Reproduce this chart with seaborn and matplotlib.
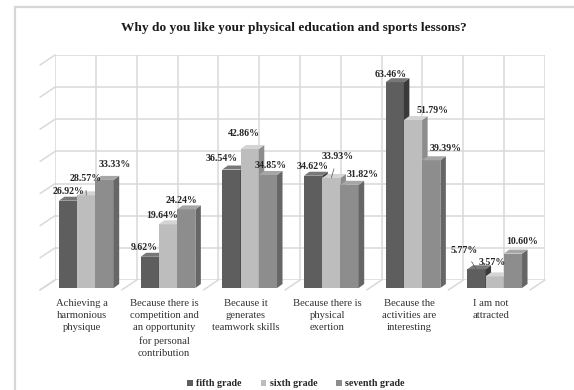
import numpy as np
import pandas as pd
import matplotlib
matplotlib.use("Agg")
import matplotlib.pyplot as plt
import seaborn as sns
from matplotlib.patches import Polygon, Rectangle
from matplotlib.lines import Line2D
from matplotlib.transforms import ScaledTranslation

# ---- data -------------------------------------------------------------
categories = [
    "Achieving a\nharmonious\nphysique",
    "Because there is\ncompetition and\nan opportunity\nfor personal\ncontribution",
    "Because it\ngenerates\nteamwork skills",
    "Because there is\nphysical\nexertion",
    "Because the\nactivities are\ninteresting",
    "I am not\nattracted",
]
grades = ["fifth grade", "sixth grade", "seventh grade"]
fifth = [26.92, 9.62, 36.54, 34.62, 63.46, 5.77]
sixth = [28.57, 19.64, 42.86, 33.93, 51.79, 3.57]
seventh = [33.33, 24.24, 34.85, 31.82, 39.39, 10.60]
title = "Why do you like your physical education and sports lessons?"

df = pd.DataFrame({
    "reason": categories * 3,
    "grade": np.repeat(grades, len(categories)),
    "value": fifth + sixth + seventh,
})

# ---- styling ----------------------------------------------------------
sns.set_style("white")
plt.rcParams["font.family"] = ["Liberation Serif", "DejaVu Serif"]

front_cols = {"fifth grade": "#5e5e5e", "sixth grade": "#bdbdbd", "seventh grade": "#8d8d8d"}
top_cols = {"fifth grade": "#787878", "sixth grade": "#d4d4d4", "seventh grade": "#a6a6a6"}
side_cols = {"fifth grade": "#3a3a3a", "sixth grade": "#8c8c8c", "seventh grade": "#666666"}
grid_col = "#d9d9d9"

W, H = 574, 390
fig = plt.figure(figsize=(W / 100, H / 100), dpi=100)
fig.patch.set_facecolor("white")

# outer frame
fig.patches.append(Rectangle((15 / W, -0.1), 1.2, 1.1 - 7.5 / H,
                             transform=fig.transFigure, fill=False,
                             edgecolor="#d6d6d6", linewidth=1.6))

fig.text(294 / W, 1 - 28 / H, title, ha="center", va="center",
         fontsize=9.6, fontweight="bold", color="#1a1a1a")

# ---- back wall with grid ----------------------------------------------
wall = fig.add_axes([55 / W, 1 - 280 / H, 490 / W, 225 / H], zorder=0)
wall.set_xlim(-0.5, 5.5)
wall.set_ylim(0, 70)
for v in range(0, 71, 10):
    wall.axhline(v, color=grid_col, lw=1.1, zorder=0)
for xv in np.arange(-0.5, 5.51, 0.5):
    wall.axvline(xv, color=grid_col, lw=1.1, zorder=0)
wall.set_axis_off()

# depth lines of the side wall and the floor
for v in range(0, 71, 10):
    p0 = wall.transData.transform((-0.5, v))
    fig.add_artist(Line2D([p0[0], p0[0] - 15], [p0[1], p0[1] - 10],
                          transform=None, color=grid_col, lw=1.1))
for xv in np.arange(-0.5, 5.51, 1.0):
    p0 = wall.transData.transform((xv, 0))
    fig.add_artist(Line2D([p0[0], p0[0] - 15], [p0[1], p0[1] - 10],
                          transform=None, color=grid_col, lw=1.1))

# ---- bars ---------------------------------------------------------------
ax = fig.add_axes([45.5 / W, 1 - 288 / H, 490 / W, 227 / H], zorder=1)
sns.barplot(data=df, x="reason", y="value", hue="grade", order=categories,
            hue_order=grades, palette=front_cols, width=0.67, saturation=1,
            linewidth=0, edgecolor="none", ax=ax, legend=False)
ax.set_xlim(-0.5, 5.5)
ax.set_ylim(0, 70)
ax.patch.set_alpha(0)
for s in ax.spines.values():
    s.set_visible(False)
ax.set_xlabel("")
ax.set_ylabel("")
ax.set_yticks([])
ax.tick_params(axis="x", length=0, pad=8.0, labelsize=7.7, colors="#333333")
for lab in ax.get_xticklabels():
    lab.set_linespacing(1.45)
    lab.set_transform(lab.get_transform() + ScaledTranslation(-4 / 100, 0, fig.dpi_scale_trans))

# 3-D side and top faces for each bar
cat_px = 490 / 6
unit_px = 227 / 70
dx = 5.5 / cat_px
dy = 4.0 / unit_px
bars = sorted([p for p in ax.patches if isinstance(p, Rectangle) and p.get_height() > 0],
              key=lambda p: p.get_x())
for i, p in enumerate(bars):
    cat_i, g_i = divmod(i, 3)
    g = grades[g_i]
    x0, w, h = p.get_x(), p.get_width(), p.get_height()
    x1 = x0 + w
    z = 2 + i * 0.1
    p.set_zorder(z)
    p.set_facecolor(front_cols[g])
    side = Polygon([(x1, 0), (x1 + dx, dy), (x1 + dx, h + dy), (x1, h)],
                   closed=True, facecolor=side_cols[g], edgecolor="none",
                   zorder=z, clip_on=False)
    top = Polygon([(x0, h), (x0 + dx, h + dy), (x1 + dx, h + dy), (x1, h)],
                  closed=True, facecolor=top_cols[g], edgecolor="none",
                  zorder=z, clip_on=False)
    ax.add_patch(side)
    ax.add_patch(top)

# ---- value labels -------------------------------------------------------
values_by_grade = [fifth, sixth, seventh]
label_offsets = [
    [(0, 9), (-6, 9), (-10, 11), (-1, 9), (-4, 8), (-12, 19)],
    [(-1, 17), (-6, 9), (-6, 16), (6, 21), (20, 10), (-2, 14)],
    [(10, 15), (-5, 9), (3, 9), (13, 10), (14, 12), (9, 12)],
]
for i, p in enumerate(bars):
    cat_i, g_i = divmod(i, 3)
    val = values_by_grade[g_i][cat_i]
    cx = p.get_x() + p.get_width() / 2
    ox, oy = label_offsets[g_i][cat_i]
    arrow = dict(arrowstyle="-", color="#555555", lw=0.5, shrinkA=3, shrinkB=0) if oy >= 17 else None
    ax.annotate(f"{val:.2f}%", xy=(cx, val), xytext=(ox, oy),
                textcoords="offset pixels", ha="center", va="center",
                fontsize=7.1, fontweight="bold", color="#262626",
                arrowprops=arrow, zorder=10, annotation_clip=False)

# ---- legend -------------------------------------------------------------
handles = [Rectangle((0, 0), 1, 1, facecolor=front_cols[g], edgecolor="none") for g in grades]
fig.legend(handles, grades, loc="center", bbox_to_anchor=(296 / W, 1 - 384 / H),
           ncol=3, frameon=False, handlelength=0.55, handleheight=0.55,
           handletextpad=0.35, columnspacing=1.9,
           prop={"size": 7.2, "weight": "bold", "family": ["Liberation Serif"]})

fig.savefig("out.png", dpi=100, facecolor="white")
